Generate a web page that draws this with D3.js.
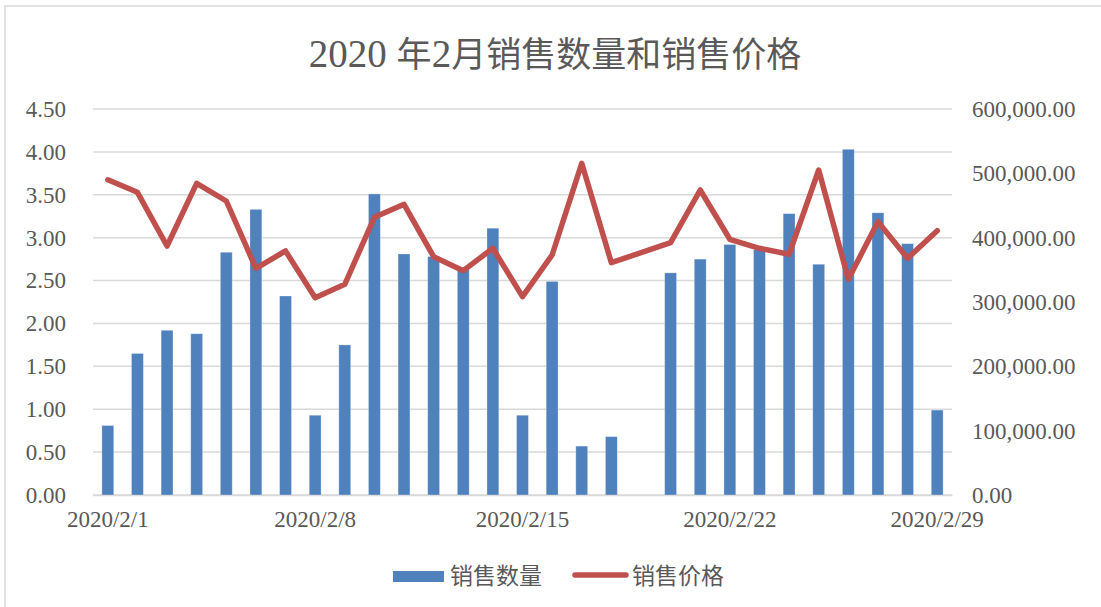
<!DOCTYPE html>
<html>
  <head>
    <meta http-equiv="Content-Type" content="text/html;charset=utf-8" />
    <title>2020年2月销售数量和销售价格</title>
    <style>
      body {
        margin: 0;
        background: #fff;
      }
      text {
        font-family: "Liberation Serif", "Noto Sans CJK SC", serif;
        fill: #595959;
      }
      tspan.cjk {
        font-family: "Noto Sans CJK SC", sans-serif;
      }
      .grid line {
        stroke: #d9d9d9;
        stroke-width: 1.5px;
      }
      path.price {
        fill: none;
        stroke: #c0504d;
        stroke-width: 5.5px;
        stroke-linejoin: round;
        stroke-linecap: round;
      }
    </style>
    <script src="https://d3js.org/d3.v7.min.js"></script>
  </head>
  <body>
    <div id="chart"></div>
    <script type="text/javascript">
      const days = [
        "2020/2/1", "2020/2/2", "2020/2/3", "2020/2/4", "2020/2/5", "2020/2/6", "2020/2/7",
        "2020/2/8", "2020/2/9", "2020/2/10", "2020/2/11", "2020/2/12", "2020/2/13", "2020/2/14",
        "2020/2/15", "2020/2/16", "2020/2/17", "2020/2/18", "2020/2/19", "2020/2/20", "2020/2/21",
        "2020/2/22", "2020/2/23", "2020/2/24", "2020/2/25", "2020/2/26", "2020/2/27", "2020/2/28",
        "2020/2/29",
      ];
      // 销售数量 (left axis)
      const quantity = [
        0.81, 1.65, 1.92, 1.88, 2.83, 3.33, 2.32, 0.93, 1.75, 3.51, 2.81, 2.78, 2.63, 3.11,
        0.93, 2.49, 0.57, 0.68, null, 2.59, 2.75, 2.92, 2.86, 3.28, 2.69, 4.03, 3.29, 2.93,
        0.99,
      ];
      // 销售价格 (right axis)
      const price = [
        490000, 470500, 387000, 484500, 457000, 352400, 379300, 306700, 327500, 431600,
        451900, 370400, 348700, 383500, 308300, 373100, 515600, 361100, null, 392200,
        474100, 397500, 383500, 374200, 505200, 335300, 424900, 367900, 410800,
      ];
      const xTicks = ["2020/2/1", "2020/2/8", "2020/2/15", "2020/2/22", "2020/2/29"];
      const leftTicks = [0, 0.5, 1, 1.5, 2, 2.5, 3, 3.5, 4, 4.5];
      const rightTicks = [0, 100000, 200000, 300000, 400000, 500000, 600000];
      // title pieces: [text, is CJK]
      const titleParts = [
        ["2020 ", false],
        ["年", true],
        ["2", false],
        ["月销售数量和销售价格", true],
      ];

      const width = 1101,
        height = 607;
      const plot = { left: 93, right: 952, top: 109, bottom: 495 };

      const svg = d3
        .select("#chart")
        .append("svg")
        .attr("width", width)
        .attr("height", height);

      // chart frame
      svg
        .append("rect")
        .attr("x", 5)
        .attr("y", 6)
        .attr("width", width)
        .attr("height", height)
        .style("fill", "#fff")
        .style("stroke", "#d9d9d9")
        .style("stroke-width", 1.5);

      svg
        .append("text")
        .attr("x", 555)
        .attr("y", 67)
        .style("text-anchor", "middle")
        .style("font-size", "36px")
        .selectAll("tspan")
        .data(titleParts)
        .enter()
        .append("tspan")
        .attr("class", (d) => (d[1] ? "cjk" : null))
        .style("font-size", (d) => (d[1] ? "35px" : "39px"))
        .text((d) => d[0]);

      const x = d3
        .scaleBand()
        .domain(days)
        .range([plot.left, plot.right])
        .paddingInner(0.6)
        .paddingOuter(0.3);

      const yLeft = d3.scaleLinear().domain([0, 4.5]).range([plot.bottom, plot.top]);
      const yRight = d3.scaleLinear().domain([0, 600000]).range([plot.bottom, plot.top]);

      // gridlines follow the left axis
      svg
        .append("g")
        .attr("class", "grid")
        .selectAll("line")
        .data(leftTicks)
        .enter()
        .append("line")
        .attr("x1", plot.left)
        .attr("x2", plot.right)
        .attr("y1", (d) => yLeft(d))
        .attr("y2", (d) => yLeft(d));

      const fmtLeft = d3.format(".2f"),
        fmtRight = d3.format(",.2f");

      const leftAxis = d3
        .axisLeft(yLeft)
        .tickValues(leftTicks)
        .tickFormat(fmtLeft)
        .tickSize(0)
        .tickPadding(27);
      svg
        .append("g")
        .attr("transform", "translate(" + plot.left + ",0)")
        .call(leftAxis)
        .call((g) => g.select(".domain").remove())
        .selectAll("text")
        .style("font-size", "23px")
        .attr("fill", "#595959");

      const rightAxis = d3
        .axisRight(yRight)
        .tickValues(rightTicks)
        .tickFormat(fmtRight)
        .tickSize(0)
        .tickPadding(20);
      svg
        .append("g")
        .attr("transform", "translate(" + plot.right + ",0)")
        .call(rightAxis)
        .call((g) => g.select(".domain").remove())
        .selectAll("text")
        .style("font-size", "23px")
        .attr("fill", "#595959");

      const bottomAxis = d3.axisBottom(x).tickValues(xTicks).tickSize(0).tickPadding(16);
      const gx = svg
        .append("g")
        .attr("transform", "translate(0," + plot.bottom + ")")
        .call(bottomAxis);
      gx.select(".domain").attr("stroke", "#d9d9d9").attr("stroke-width", 1.5);
      gx.selectAll("text").style("font-size", "23px").attr("fill", "#595959");

      // bars
      const rows = days.map((d, i) => ({ day: d, q: quantity[i], p: price[i] }));

      svg
        .append("g")
        .selectAll("rect")
        .data(rows.filter((d) => d.q != null))
        .enter()
        .append("rect")
        .attr("x", (d) => x(d.day))
        .attr("y", (d) => yLeft(d.q))
        .attr("width", x.bandwidth())
        .attr("height", (d) => plot.bottom - yLeft(d.q))
        .style("fill", "#4f81bd")
        .style("stroke", "rgba(255,255,255,0.35)")
        .style("stroke-width", 0.8);

      // price line, missing day bridged
      const line = d3
        .line()
        .x((d) => x(d.day) + x.bandwidth() / 2)
        .y((d) => yRight(d.p));

      svg
        .append("path")
        .datum(rows.filter((d) => d.p != null))
        .attr("class", "price")
        .attr("d", line);

      // legend
      const legend = svg.append("g");
      legend
        .append("rect")
        .attr("x", 393)
        .attr("y", 571)
        .attr("width", 51)
        .attr("height", 11)
        .style("fill", "#4f81bd");
      legend
        .append("text")
        .attr("x", 450)
        .attr("y", 584)
        .style("font-size", "23px")
        .text("销售数量");
      legend
        .append("line")
        .attr("x1", 575)
        .attr("x2", 626)
        .attr("y1", 575)
        .attr("y2", 575)
        .style("stroke", "#c0504d")
        .style("stroke-width", 5.5)
        .style("stroke-linecap", "round");
      legend
        .append("text")
        .attr("x", 632)
        .attr("y", 584)
        .style("font-size", "23px")
        .text("销售价格");
    </script>
  </body>
</html>
